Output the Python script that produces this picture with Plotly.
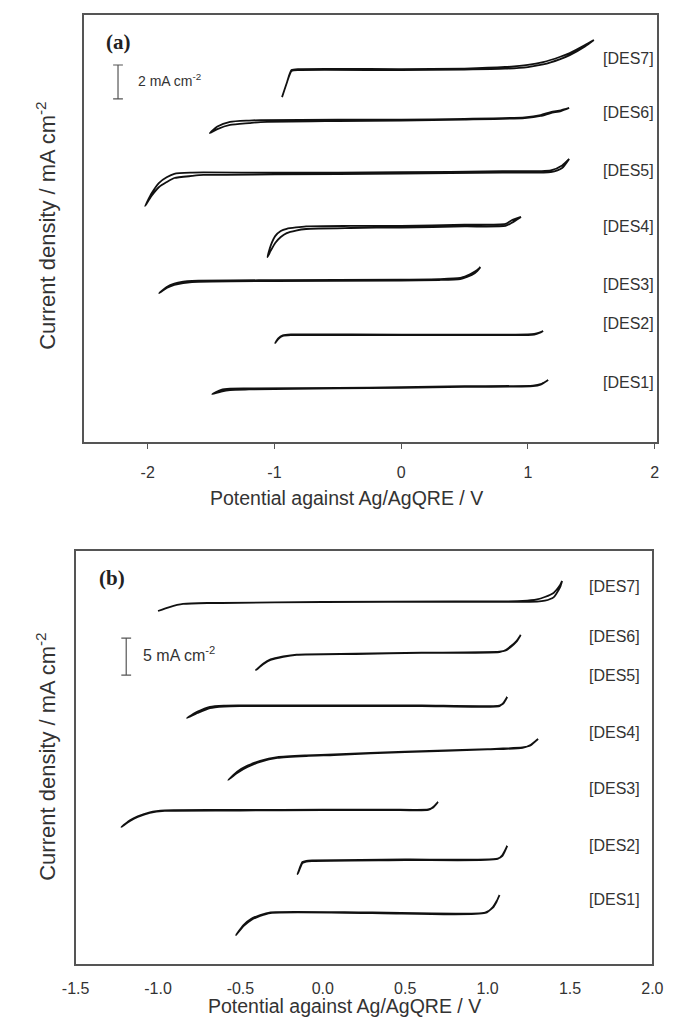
import plotly.graph_objects as go

# ---------------- DATA ----------------
des_labels = ["[DES1]", "[DES2]", "[DES3]", "[DES4]", "[DES5]", "[DES6]", "[DES7]"]

# Panel (a): potential (V) and offset current density (mA cm-2), forward / reverse scans
a_E1 = [-1.49, -1.42, -1.35, -1.2, -0.5, 0.0, 0.5, 1.04, 1.10, 1.16]
a_f1 = [2.82, 2.97, 3.06, 3.09, 3.15, 3.18, 3.24, 3.29, 3.38, 3.65]
a_r1 = [2.82, 3.07, 3.14, 3.15, 3.19, 3.22, 3.28, 3.32, 3.40, 3.65]

a_E2 = [-0.994, -0.97, -0.934, -0.87, -0.81, 0.0, 0.5, 1.0, 1.05, 1.09, 1.12]
a_f2 = [5.82, 6.06, 6.24, 6.29, 6.29, 6.29, 6.29, 6.29, 6.32, 6.41, 6.53]
a_r2 = [5.82, 6.10, 6.28, 6.33, 6.33, 6.32, 6.32, 6.33, 6.36, 6.44, 6.53]

a_E3 = [-1.91, -1.85, -1.79, -1.72, -1.65, -1.0, 0.0, 0.3, 0.466, 0.52, 0.557, 0.6, 0.625]
a_f3 = [8.76, 9.06, 9.24, 9.35, 9.41, 9.47, 9.50, 9.53, 9.59, 9.71, 9.82, 10.06, 10.29]
a_r3 = [8.76, 9.12, 9.32, 9.43, 9.48, 9.52, 9.55, 9.58, 9.65, 9.79, 9.92, 10.12, 10.29]

a_E4 = [-1.055, -1.03, -0.994, -0.95, -0.903, -0.83, -0.75, -0.4, 0.0, 0.5, 0.823, 0.869, 0.945]
a_f4 = [10.88, 11.24, 11.71, 12.06, 12.29, 12.44, 12.53, 12.59, 12.62, 12.68, 12.71, 12.88, 13.24]
a_r4 = [10.88, 11.54, 12.11, 12.41, 12.54, 12.62, 12.68, 12.71, 12.72, 12.78, 12.83, 13.03, 13.24]

a_E5 = [-2.02, -1.97, -1.91, -1.85, -1.79, -1.65, -1.56, -1.0, 0.0, 0.8, 1.18, 1.27, 1.325]
a_f5 = [13.88, 14.47, 15.00, 15.29, 15.53, 15.65, 15.71, 15.74, 15.79, 15.85, 15.88, 16.12, 16.65]
a_r5 = [13.88, 14.62, 15.25, 15.57, 15.78, 15.85, 15.86, 15.84, 15.87, 15.93, 15.98, 16.27, 16.65]

a_E6 = [-1.51, -1.45, -1.35, -1.2, -1.11, -0.5, 0.0, 0.5, 0.975, 1.1, 1.18, 1.26, 1.325]
a_f6 = [18.18, 18.41, 18.65, 18.76, 18.82, 18.88, 18.91, 18.97, 19.06, 19.18, 19.35, 19.47, 19.65]
a_r6 = [18.18, 18.56, 18.83, 18.91, 18.94, 18.96, 18.96, 19.01, 19.10, 19.23, 19.41, 19.51, 19.65]

a_E7 = [-0.94, -0.90, -0.865, -0.80, 0.0, 0.5, 0.82, 1.0, 1.12, 1.25, 1.33, 1.45, 1.52]
a_f7 = [20.29, 21.18, 21.88, 21.94, 21.94, 21.97, 22.06, 22.18, 22.35, 22.65, 22.88, 23.35, 23.65]
a_r7 = [20.29, 21.18, 21.83, 21.88, 21.88, 21.91, 21.96, 22.06, 22.21, 22.51, 22.76, 23.27, 23.65]

a_label_j = [3.53, 7.0, 9.24, 12.65, 16.0, 19.41, 22.59]

# Panel (b)
b_E1 = [-0.527, -0.48, -0.434, -0.38, -0.317, 0.3, 0.985, 1.032, 1.055, 1.072]
b_f1 = [3.92, 5.14, 5.95, 6.49, 6.89, 6.89, 6.89, 7.70, 8.51, 9.32]
b_r1 = [3.92, 5.30, 6.12, 6.62, 6.98, 6.96, 6.96, 7.62, 8.45, 9.32]

b_E2 = [-0.153, -0.135, -0.124, -0.1, -0.066, 0.5, 1.061, 1.09, 1.119]
b_f2 = [12.16, 13.11, 13.65, 13.85, 13.92, 14.05, 14.19, 14.73, 15.95]
b_r2 = [12.16, 13.25, 13.78, 13.95, 14.00, 14.12, 14.25, 14.62, 15.95]

b_E3 = [-1.222, -1.17, -1.123, -1.05, -0.959, -0.5, 0.0, 0.4, 0.640, 0.67, 0.699]
b_f3 = [18.51, 19.32, 19.86, 20.41, 20.68, 20.74, 20.81, 20.81, 20.81, 21.22, 21.89]
b_r3 = [18.51, 19.42, 19.96, 20.50, 20.76, 20.81, 20.86, 20.87, 20.88, 21.15, 21.89]

b_E4 = [-0.574, -0.52, -0.457, -0.38, -0.276, -0.1, 0.068, 0.5, 1.0, 1.212, 1.26, 1.306]
b_f4 = [24.86, 25.81, 26.62, 27.30, 27.84, 28.11, 28.24, 28.65, 28.99, 29.19, 29.59, 30.41]
b_r4 = [24.86, 25.98, 26.80, 27.45, 27.95, 28.19, 28.31, 28.71, 29.05, 29.26, 29.52, 30.41]

b_E5 = [-0.825, -0.76, -0.685, -0.6, -0.504, 0.0, 0.6, 1.072, 1.095, 1.119]
b_f5 = [33.24, 33.92, 34.59, 34.80, 34.86, 34.86, 34.86, 34.86, 35.27, 36.08]
b_r5 = [33.24, 34.10, 34.75, 34.92, 34.95, 34.93, 34.93, 34.93, 35.20, 36.08]

b_E6 = [-0.405, -0.36, -0.317, -0.24, -0.159, 0.2, 0.6, 1.072, 1.11, 1.142, 1.175, 1.201]
b_f6 = [39.73, 40.54, 41.08, 41.49, 41.76, 41.89, 42.03, 42.16, 42.43, 42.97, 43.65, 44.46]
b_r6 = [39.73, 40.62, 41.16, 41.56, 41.82, 41.94, 42.07, 42.20, 42.38, 42.88, 43.56, 44.46]

b_E7 = [-1.0, -0.93, -0.848, -0.7, -0.615, 0.0, 0.8, 1.213, 1.3, 1.347, 1.4, 1.417, 1.44, 1.452]
b_f7 = [47.70, 48.24, 48.65, 48.78, 48.78, 48.92, 48.99, 49.05, 49.26, 49.59, 50.14, 50.54, 51.22, 51.76]
b_r7 = [47.70, 48.24, 48.65, 48.78, 48.78, 48.92, 48.94, 48.93, 48.96, 49.09, 49.54, 50.04, 50.92, 51.76]

b_label_j = [8.65, 16.08, 23.78, 31.22, 39.05, 44.19, 50.95]

a_xticks = [-2, -1, 0, 1, 2]
a_xticklabels = ["-2", "-1", "0", "1", "2"]
b_xticks = [-1.5, -1.0, -0.5, 0.0, 0.5, 1.0, 1.5, 2.0]
b_xticklabels = ["-1.5", "-1.0", "-0.5", "0.0", "0.5", "1.0", "1.5", "2.0"]

a_scale = [20.18, 22.18]   # 2 mA cm-2
b_scale = [39.05, 44.05]   # 5 mA cm-2

# ---------------- FIGURE ----------------
FONT = "Liberation Sans, Arial, sans-serif"
SERIF = "Liberation Serif, Times New Roman, serif"
TXT = "#333333"
FRAME = "#555555"

fig = go.Figure()

a_series = [(a_E1, a_f1, a_r1), (a_E2, a_f2, a_r2), (a_E3, a_f3, a_r3), (a_E4, a_f4, a_r4),
            (a_E5, a_f5, a_r5), (a_E6, a_f6, a_r6), (a_E7, a_f7, a_r7)]
b_series = [(b_E1, b_f1, b_r1), (b_E2, b_f2, b_r2), (b_E3, b_f3, b_r3), (b_E4, b_f4, b_r4),
            (b_E5, b_f5, b_r5), (b_E6, b_f6, b_r6), (b_E7, b_f7, b_r7)]

for (E, f, r), name in zip(a_series, des_labels):
    fig.add_trace(go.Scatter(x=E + E[::-1], y=f + r[::-1], mode="lines", name=name,
                             line=dict(color="#111111", width=1.8, shape="spline", smoothing=0.6),
                             xaxis="x", yaxis="y", showlegend=False, hoverinfo="skip"))
for (E, f, r), name in zip(b_series, des_labels):
    fig.add_trace(go.Scatter(x=E + E[::-1], y=f + r[::-1], mode="lines", name=name,
                             line=dict(color="#111111", width=1.8, shape="spline", smoothing=0.6),
                             xaxis="x2", yaxis="y2", showlegend=False, hoverinfo="skip"))

# scale bars
fig.add_trace(go.Scatter(x=[-2.234, -2.234], y=a_scale, mode="lines+markers", xaxis="x", yaxis="y",
                         line=dict(color=FRAME, width=1.2),
                         marker=dict(symbol="line-ew", size=7, line=dict(color=FRAME, width=1.2)),
                         showlegend=False, hoverinfo="skip"))
fig.add_trace(go.Scatter(x=[-1.193, -1.193], y=b_scale, mode="lines+markers", xaxis="x2", yaxis="y2",
                         line=dict(color=FRAME, width=1.2),
                         marker=dict(symbol="line-ew", size=7, line=dict(color=FRAME, width=1.2)),
                         showlegend=False, hoverinfo="skip"))


def note(x, y, text, size, xref="paper", yref="paper", xanchor="center", family=FONT, color=TXT, angle=0):
    return dict(x=x, y=y, xref=xref, yref=yref, text=text, showarrow=False,
                xanchor=xanchor, yanchor="middle", textangle=angle,
                font=dict(family=family, size=size, color=color))


ann = []
for lab, j in zip(des_labels, a_label_j):
    ann.append(note(1.795, j, lab, 16, xref="x", yref="y"))
for lab, j in zip(des_labels, b_label_j):
    ann.append(note(1.773, j, lab, 16, xref="x2", yref="y2"))

ann.append(note(-2.09, 21.3, "2 mA cm<sup>-2</sup>", 14, xref="x", yref="y", xanchor="left"))
ann.append(note(-1.105, 41.9, "5 mA cm<sup>-2</sup>", 16, xref="x2", yref="y2", xanchor="left"))

ann.append(note(109 / 674, 1 - 42 / 1026, "<b>(a)</b>", 21, family=SERIF, color="#222"))
ann.append(note(102 / 674, 1 - 578 / 1026, "<b>(b)</b>", 21, family=SERIF, color="#222"))

ytitle = "Current density / mA cm<sup>-2</sup>"
ann.append(note(33 / 674, 1 - 226 / 1026, ytitle, 22, angle=-90))
ann.append(note(33 / 674, 1 - 757 / 1026, ytitle, 22, angle=-90))

xtitle = "Potential against Ag/AgQRE / V"
ann.append(note(345 / 674, 1 - 498 / 1026, xtitle, 19.5))
ann.append(note(343 / 674, 1 - 1006 / 1026, xtitle, 19.5))

axis_common = dict(showline=True, mirror=True, linecolor=FRAME, linewidth=1.5, showgrid=False,
                   zeroline=False)

fig.update_layout(
    width=674, height=1026, margin=dict(l=0, r=0, t=0, b=0),
    paper_bgcolor="white", plot_bgcolor="white",
    annotations=ann,
    xaxis=dict(domain=[73 / 674, 668 / 674], range=[-2.5, 2.02], anchor="y",
               tickmode="array", tickvals=a_xticks, ticktext=a_xticklabels,
               ticks="outside", ticklen=5, tickcolor=FRAME, tickwidth=1.2, ticklabelstandoff=10,
               tickfont=dict(family=FONT, size=16, color=TXT), **axis_common),
    yaxis=dict(domain=[1 - 442 / 1026, 1 - 15 / 1026], range=[0, 25.12], anchor="x",
               showticklabels=False, ticks="", **axis_common),
    xaxis2=dict(domain=[64 / 674, 663 / 674], range=[-1.5, 2.0], anchor="y2",
                tickmode="array", tickvals=b_xticks, ticktext=b_xticklabels,
                ticks="", ticklabelstandoff=9,
                tickfont=dict(family=FONT, size=16, color=TXT), **axis_common),
    yaxis2=dict(domain=[1 - 964 / 1026, 1 - 551 / 1026], range=[0, 55.81], anchor="x2",
                showticklabels=False, ticks="", **axis_common),
)

fig.write_html("out.html")
